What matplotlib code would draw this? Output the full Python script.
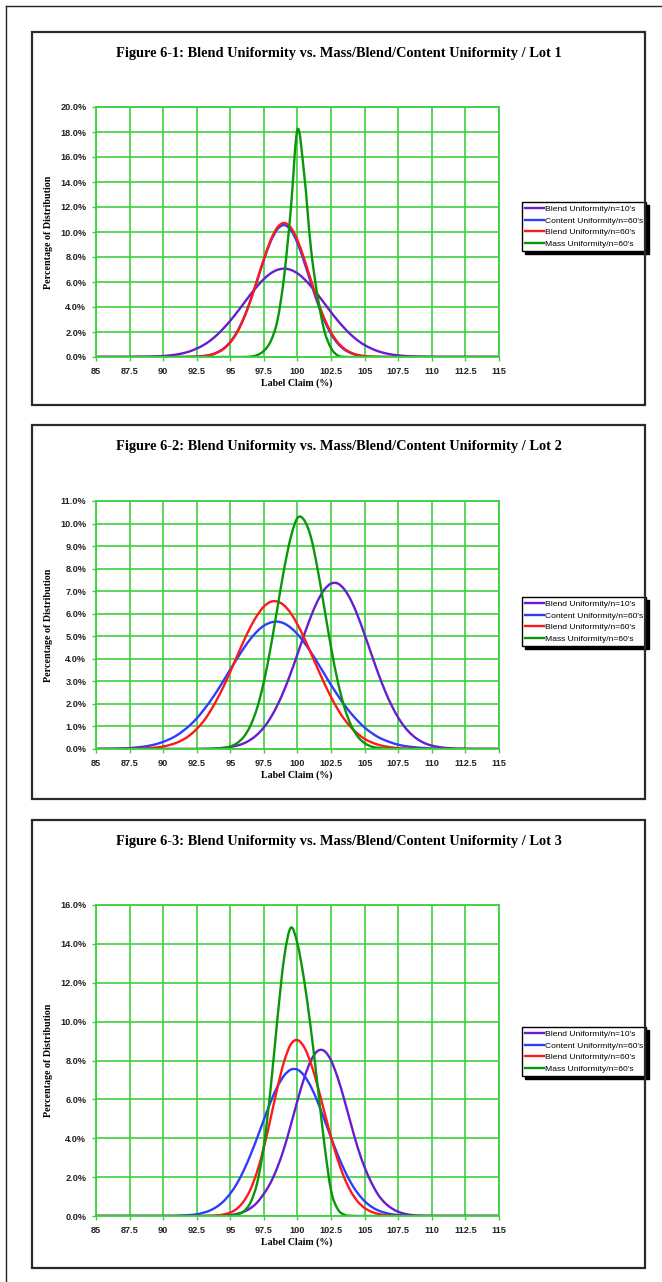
import numpy as np
import matplotlib as mpl
mpl.use("Agg")
import matplotlib.pyplot as plt
from matplotlib.patches import Rectangle, PathPatch
from matplotlib.path import Path
from matplotlib.lines import Line2D
from matplotlib.ticker import PercentFormatter, FuncFormatter, MultipleLocator

W, H = 662, 1282

# label claim (%) sampled every 0.5 from 85 to 115
label_claim = np.arange(85, 115.01, 0.5)

series_names = ["Blend Uniformity/n=10's", "Content Uniformity/n=60's",
                "Blend Uniformity/n=60's", "Mass Uniformity/n=60's"]
series_colors = ["#6a1ccf", "#2f3cff", "#ff1a1a", "#0a960a"]

# ---- Lot 1 (percentage of distribution) ----
lot1_blend10 = [0, 0, 0, 0, 0, 0, 0.01, 0.02, 0.03, 0.05,
                0.08, 0.13, 0.20, 0.31, 0.46, 0.68, 0.95, 1.31, 1.76, 2.30,
                2.91, 3.58, 4.29, 5.00, 5.66, 6.24, 6.69, 6.97, 7.07, 6.97,
                6.69, 6.24, 5.66, 5.00, 4.29, 3.58, 2.91, 2.30, 1.76, 1.31,
                0.95, 0.68, 0.46, 0.31, 0.20, 0.13, 0.08, 0.05, 0.03, 0.02,
                0.01, 0, 0, 0, 0, 0, 0, 0, 0, 0, 0]
lot1_content60 = [0, 0, 0, 0, 0, 0, 0, 0, 0, 0,
                  0, 0, 0, 0, 0.01, 0.03, 0.08, 0.17, 0.36, 0.68,
                  1.21, 2.01, 3.12, 4.53, 6.14, 7.79, 9.24, 10.22, 10.55, 10.16,
                  9.11, 7.60, 5.93, 4.31, 2.92, 1.84, 1.08, 0.59, 0.30, 0.14,
                  0.06, 0.02, 0.01, 0, 0, 0, 0, 0, 0, 0,
                  0, 0, 0, 0, 0, 0, 0, 0, 0, 0, 0]
lot1_blend60 = [0, 0, 0, 0, 0, 0, 0, 0, 0, 0,
                0, 0, 0, 0, 0.01, 0.03, 0.07, 0.16, 0.34, 0.65,
                1.17, 1.96, 3.08, 4.51, 6.16, 7.85, 9.34, 10.36, 10.72, 10.36,
                9.34, 7.85, 6.16, 4.51, 3.08, 1.96, 1.17, 0.65, 0.34, 0.16,
                0.07, 0.03, 0.01, 0, 0, 0, 0, 0, 0, 0,
                0, 0, 0, 0, 0, 0, 0, 0, 0, 0, 0]
lot1_mass60 = [0, 0, 0, 0, 0, 0, 0, 0, 0, 0,
               0, 0, 0, 0, 0, 0, 0, 0, 0, 0,
               0, 0, 0, 0.03, 0.15, 0.5, 1.25, 2.9, 6.4, 11.8,
               18.2, 14.6, 8.7, 4.8, 2.1, 0.7, 0.12, 0.01, 0, 0,
               0, 0, 0, 0, 0, 0, 0, 0, 0, 0,
               0, 0, 0, 0, 0, 0, 0, 0, 0, 0, 0]

# ---- Lot 2 ----
lot2_blend10 = [0, 0, 0, 0, 0, 0, 0, 0, 0, 0,
                0, 0, 0, 0, 0, 0, 0.01, 0.01, 0.03, 0.05,
                0.09, 0.15, 0.25, 0.41, 0.64, 0.96, 1.39, 1.94, 2.60, 3.37,
                4.21, 5.07, 5.88, 6.57, 7.07, 7.34, 7.34, 7.07, 6.57, 5.88,
                5.07, 4.21, 3.37, 2.60, 1.94, 1.39, 0.96, 0.64, 0.41, 0.25,
                0.15, 0.09, 0.05, 0.03, 0.01, 0.01, 0, 0, 0, 0, 0]
lot2_content60 = [0, 0.01, 0.01, 0.02, 0.03, 0.04, 0.07, 0.10, 0.15, 0.22,
                  0.32, 0.44, 0.60, 0.81, 1.06, 1.36, 1.72, 2.12, 2.56, 3.04,
                  3.53, 4.01, 4.47, 4.88, 5.22, 5.47, 5.61, 5.65, 5.57, 5.38,
                  5.09, 4.72, 4.29, 3.82, 3.33, 2.84, 2.38, 1.95, 1.57, 1.24,
                  0.95, 0.72, 0.53, 0.39, 0.28, 0.19, 0.13, 0.09, 0.06, 0.04,
                  0.02, 0.01, 0.01, 0, 0, 0, 0, 0, 0, 0, 0]
lot2_blend60 = [0, 0, 0, 0, 0, 0.01, 0.01, 0.02, 0.04, 0.07,
                0.11, 0.18, 0.28, 0.42, 0.62, 0.89, 1.23, 1.67, 2.19, 2.78,
                3.43, 4.12, 4.79, 5.41, 5.93, 6.32, 6.53, 6.54, 6.37, 6.02,
                5.52, 4.92, 4.25, 3.57, 2.91, 2.30, 1.76, 1.31, 0.95, 0.67,
                0.45, 0.30, 0.19, 0.12, 0.07, 0.04, 0.02, 0.01, 0.01, 0,
                0, 0, 0, 0, 0, 0, 0, 0, 0, 0, 0]
lot2_mass60 = [0, 0, 0, 0, 0, 0, 0, 0, 0, 0,
               0, 0, 0, 0, 0, 0, 0, 0.01, 0.02, 0.05,
               0.11, 0.26, 0.54, 1.04, 1.83, 2.99, 4.50, 6.24, 7.97, 9.39,
               10.25, 10.15, 9.39, 7.97, 6.24, 4.50, 2.99, 1.83, 1.04, 0.54,
               0.26, 0.11, 0.05, 0.02, 0.01, 0, 0, 0, 0, 0,
               0, 0, 0, 0, 0, 0, 0, 0, 0, 0, 0]

# ---- Lot 3 ----
lot3_blend10 = [0, 0, 0, 0, 0, 0, 0, 0, 0, 0,
                0, 0, 0, 0, 0, 0, 0, 0, 0.01, 0.02,
                0.05, 0.11, 0.22, 0.40, 0.70, 1.15, 1.72, 2.50, 3.48, 4.68,
                5.94, 7.10, 8.00, 8.49, 8.49, 8.00, 7.10, 5.94, 4.68, 3.48,
                2.50, 1.72, 1.10, 0.68, 0.40, 0.22, 0.11, 0.05, 0.02, 0.01,
                0, 0, 0, 0, 0, 0, 0, 0, 0, 0, 0]
lot3_content60 = [0, 0, 0, 0, 0, 0, 0, 0, 0, 0,
                  0, 0, 0.01, 0.03, 0.05, 0.09, 0.17, 0.29, 0.48, 0.76,
                  1.16, 1.68, 2.35, 3.14, 4.03, 4.96, 5.87, 6.65, 7.22, 7.53,
                  7.53, 7.22, 6.65, 5.87, 4.96, 4.03, 3.14, 2.35, 1.68, 1.16,
                  0.76, 0.48, 0.29, 0.17, 0.09, 0.05, 0.03, 0.01, 0, 0,
                  0, 0, 0, 0, 0, 0, 0, 0, 0, 0, 0]
lot3_blend60 = [0, 0, 0, 0, 0, 0, 0, 0, 0, 0,
                0, 0, 0, 0, 0, 0, 0, 0.01, 0.03, 0.08,
                0.18, 0.38, 0.76, 1.37, 2.30, 3.54, 5.03, 6.58, 7.94, 8.83,
                9.05, 8.68, 7.85, 6.68, 5.36, 4.05, 2.89, 1.94, 1.23, 0.73,
                0.41, 0.22, 0.11, 0.05, 0.02, 0.01, 0, 0, 0, 0,
                0, 0, 0, 0, 0, 0, 0, 0, 0, 0, 0]
lot3_mass60 = [0, 0, 0, 0, 0, 0, 0, 0, 0, 0,
               0, 0, 0, 0, 0, 0, 0, 0, 0, 0,
               0.02, 0.07, 0.24, 0.69, 1.71, 3.63, 6.56, 10.11, 13.26, 14.83,
               14.0, 12.1, 9.6, 6.7, 3.7, 1.3, 0.35, 0.06, 0.01, 0,
               0, 0, 0, 0, 0, 0, 0, 0, 0, 0,
               0, 0, 0, 0, 0, 0, 0, 0, 0, 0, 0]

titles = ["Figure 6-1: Blend Uniformity vs. Mass/Blend/Content Uniformity / Lot 1",
          "Figure 6-2: Blend Uniformity vs. Mass/Blend/Content Uniformity / Lot 2",
          "Figure 6-3: Blend Uniformity vs. Mass/Blend/Content Uniformity / Lot 3"]
lots = [[lot1_blend10, lot1_content60, lot1_blend60, lot1_mass60],
        [lot2_blend10, lot2_content60, lot2_blend60, lot2_mass60],
        [lot3_blend10, lot3_content60, lot3_blend60, lot3_mass60]]
y_max = [20, 11, 16]
y_step = [2, 1, 2]

# layout in pixels: (box top, box bottom, axes top, axes bottom, title y, legend top)
layout = [(32, 405, 107, 357, 53, 202),
          (425, 799, 501, 749, 446, 597),
          (820, 1268, 905, 1216, 842, 1027)]

GRID = "#3fcf3f"
SERIF = ["Liberation Serif", "DejaVu Serif"]
SANS = ["Liberation Sans", "DejaVu Sans"]


def smooth_path(x, y):
    # excel-like smoothed line: cubic bezier through the data points
    pts = np.column_stack([x, y])
    n = len(pts)
    verts, codes = [pts[0]], [Path.MOVETO]
    for k in range(n - 1):
        p0 = pts[k - 1] if k > 0 else pts[k]
        p1, p2 = pts[k], pts[k + 1]
        p3 = pts[k + 2] if k + 2 < n else pts[k + 1]
        verts += [p1 + (p2 - p0) / 6, p2 - (p3 - p1) / 6, p2]
        codes += [Path.CURVE4] * 3
    return Path(verts, codes)


fig = plt.figure(figsize=(W / 100, H / 100), dpi=100)

# outer frame (left + top)
fig.add_artist(Line2D([6 / W, 6 / W], [0, 1 - 6 / H], color="#222222", lw=1.0))
fig.add_artist(Line2D([6 / W, 1], [1 - 6 / H, 1 - 6 / H], color="#222222", lw=1.0))

for i in range(3):
    box_top, box_bot, ax_top, ax_bot, title_y, leg_top = layout[i]

    fig.add_artist(Rectangle((32 / W, 1 - box_bot / H), (645 - 32) / W, (box_bot - box_top) / H,
                             transform=fig.transFigure, fill=False, lw=1.6, ec="#2a2a2a"))

    ax = fig.add_axes([96 / W, 1 - ax_bot / H, (499 - 96) / W, (ax_bot - ax_top) / H])
    handles = []
    for name, color, vals in zip(series_names, series_colors, lots[i]):
        ax.add_patch(PathPatch(smooth_path(label_claim, vals), fill=False, edgecolor=color,
                               lw=1.7, joinstyle="round", capstyle="round"))
        handles.append(Line2D([], [], color=color, lw=1.7, label=name))

    ax.set_xlim(85, 115)
    ax.set_ylim(0, y_max[i])
    ax.xaxis.set_major_locator(MultipleLocator(2.5))
    ax.yaxis.set_major_locator(MultipleLocator(y_step[i]))
    ax.xaxis.set_major_formatter(FuncFormatter(lambda v, p: "%g" % v))
    ax.yaxis.set_major_formatter(PercentFormatter(xmax=100, decimals=1))
    ax.grid(True, color=GRID, lw=1.2)
    ax.set_axisbelow(True)
    for sp in ax.spines.values():
        sp.set_color(GRID)
        sp.set_linewidth(1.3)
    ax.tick_params(direction="out", length=3, width=1, color=GRID, labelsize=6.6, pad=4)
    for lab in ax.get_xticklabels() + ax.get_yticklabels():
        lab.set_fontweight("bold")
        lab.set_family(SANS)
        lab.set_color("#222222")

    fig.text(339 / W, 1 - title_y / H, titles[i], ha="center", va="center",
             fontsize=10.4, fontweight="bold", family=SERIF)
    fig.text(49 / W, 1 - (ax_top + ax_bot) / 2 / H, "Percentage of Distribution",
             rotation=90, ha="center", va="center", fontsize=7.2, fontweight="bold", family=SERIF)
    fig.text(297 / W, 1 - (ax_bot + 26) / H, "Label Claim (%)", ha="center", va="center",
             fontsize=7.1, fontweight="bold", family=SERIF)

    leg = ax.legend(handles=handles, loc="upper left", bbox_to_anchor=(522 / W, 1 - leg_top / H),
                    bbox_transform=fig.transFigure, prop={"family": SANS, "size": 6.1},
                    frameon=True, fancybox=False, edgecolor="black", framealpha=1,
                    handlelength=2.3, handletextpad=0.1, labelspacing=0.45,
                    borderpad=0.35, borderaxespad=0, shadow={"color": "black", "alpha": 1})
    leg.get_frame().set_linewidth(1.0)

fig.savefig("out.png", dpi=100)
